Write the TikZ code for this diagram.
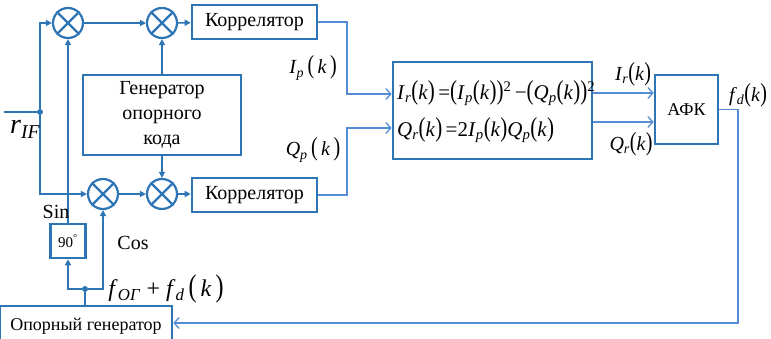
\documentclass[tikz,border=0pt]{standalone}
\usepackage{fontspec}
\setmainfont{Liberation Serif}
\usepackage{graphicx}
\usetikzlibrary{arrows.meta,calc}
\definecolor{boxc}{RGB}{46,117,182}
\definecolor{linec}{RGB}{84,141,212}
\newcommand{\iv}[2]{\textit{#1}\textsubscript{\textit{#2}}}
\newcommand{\lpr}{\scalebox{1}[1.3]{(}}
\newcommand{\rpr}{\scalebox{1}[1.3]{)}}
\tikzset{
  blk/.style={draw=boxc, line width=2.6pt, fill=white, inner sep=0pt, align=center, font=\fontsize{20}{25}\selectfont},
  mixer/.style={circle, draw=boxc, line width=2.2pt, minimum size=30pt, inner sep=0pt},
  lnk/.style={draw=boxc, line width=1.5pt},
  thin/.style={draw=linec, line width=1.3pt},
  arf/.style={-{Triangle[length=6pt,width=6pt]}},
  aro/.style={-{Straight Barb[length=5pt,width=11pt,line width=1.3pt]}},
  lbl/.style={inner sep=0pt, font=\fontsize{20}{24}\selectfont},
  dot/.style={circle, fill=boxc, inner sep=0pt, minimum size=6pt}
}
\begin{document}
\begin{tikzpicture}[x=1pt,y=-1pt]
\useasboundingbox (0,0) rectangle (771,339);
% mixers
\node[mixer] (m1) at (68,23) {};
\node[mixer] (m2) at (162,23) {};
\node[mixer] (m3) at (103,194) {};
\node[mixer] (m4) at (162,194) {};
\foreach \m in {m1,m2,m3,m4}{
  \draw[boxc, line width=2.2pt] (\m.45) -- (\m.225) (\m.135) -- (\m.315);
}
% blocks
\node[blk, minimum width=125pt, minimum height=34pt] (cT) at (254.5,22) {Коррелятор};
\node[blk, minimum width=125pt, minimum height=34pt] (cB) at (254.5,195) {Коррелятор};
\node[blk, minimum width=158pt, minimum height=80pt] (gen) at (162,115) {Генератор\\опорного\\кода};
\node[blk, minimum width=35pt, minimum height=34pt, font=\fontsize{15}{17}\selectfont] (ph) at (68,241) {90\textsuperscript{°}};
\node[blk, minimum width=172pt, minimum height=40pt, font=\fontsize{18}{22}\selectfont] (og) at (86,326) {Опорный генератор};
\node[blk, minimum width=199pt, minimum height=97pt] (big) at (492.5,110.5) {};
\node[blk, minimum width=63pt, minimum height=69pt, font=\fontsize{18}{20}\selectfont] (afk) at (686.5,109.5) {АФК};
% equations
\node[lbl, anchor=west, font=\fontsize{21}{24}\selectfont] (eq1) at (397,93)
  {\iv{I}{r}\lpr\textit{k}\rpr\,=\lpr\iv{I}{p}\lpr\textit{k}\rpr\rpr\textsuperscript{2}\,−\lpr\iv{Q}{p}\lpr\textit{k}\rpr\rpr\textsuperscript{2}};
\node[lbl, anchor=west, font=\fontsize{21}{24}\selectfont] (eq2) at (397,130)
  {\iv{Q}{r}\lpr\textit{k}\rpr\,=2\iv{I}{p}\lpr\textit{k}\rpr\iv{Q}{p}\lpr\textit{k}\rpr};
% junctions
\coordinate (in0) at (4,112);
\node[dot] (j1) at (40,112) {};
\node[dot] (j2) at (85,289) {};
% left connectors
\draw[lnk] (in0) -- (j1);
\draw[lnk, arf] (j1) |- (m1.west);
\draw[lnk, arf] (j1) |- (m3.west);
\draw[lnk, arf] (m1) -- (m2);
\draw[lnk, arf] (m2) -- (cT);
\draw[lnk, arf] (gen.north) -- (m2.south);
\draw[lnk, arf] (gen.south) -- (m4.north);
\draw[lnk, arf] (m3) -- (m4);
\draw[lnk, arf] (m4) -- (cB.west |- m4);
\draw[lnk, arf] (ph.north) -- (m1.south);
\draw[lnk, arf] (j2) -| (ph.south);
\draw[lnk, arf] (j2) -| (m3.south);
\draw[lnk] (j2) -- (og.north -| j2);
% right connectors
\coordinate (a1) at (347,94);
\coordinate (a2) at (347,128);
\draw[thin, aro] (cT.east) -| (a1) -- (big.west |- a1);
\draw[thin, aro] (cB.east) -| (a2) -- (big.west |- a2);
\coordinate (b1) at (592,93);
\coordinate (b2) at (592,122);
\draw[thin, aro] (big.east |- b1) -- (afk.west |- b1);
\draw[thin, aro] (big.east |- b2) -- (afk.west |- b2);
\coordinate (fb) at (738,323);
\draw[thin, aro] (afk.east) -| (fb) -- (og.east |- fb);
% labels
\node[lbl, anchor=base west, font=\fontsize{28}{30}\selectfont] (rif) at (10,134) {\textit{r}\textsubscript{\textit{IF}}};
\node[lbl] (ipl) at (313,68) {\iv{I}{p}\,\lpr\,\textit{k}\,\rpr};
\node[lbl] (qpl) at (313,150) {\iv{Q}{p}\,\lpr\,\textit{k}\,\rpr};
\node[lbl] (irl) at (633,74) {\iv{I}{r}\lpr\textit{k}\rpr};
\node[lbl] (qrl) at (631,144) {\iv{Q}{r}\lpr\textit{k}\rpr};
\node[lbl] (fdl) at (748,95) {\iv{f}{d}\lpr\textit{k}\rpr};
\node[lbl] (sinl) at (56,212) {Sin};
\node[lbl] (cosl) at (133,243) {Cos};
\node[lbl, font=\fontsize{24}{26}\selectfont] (fol) at (166,289) {\iv{f}{ОГ} + \iv{f}{d}\,\lpr\,\textit{k}\,\rpr};
\end{tikzpicture}
\end{document}
